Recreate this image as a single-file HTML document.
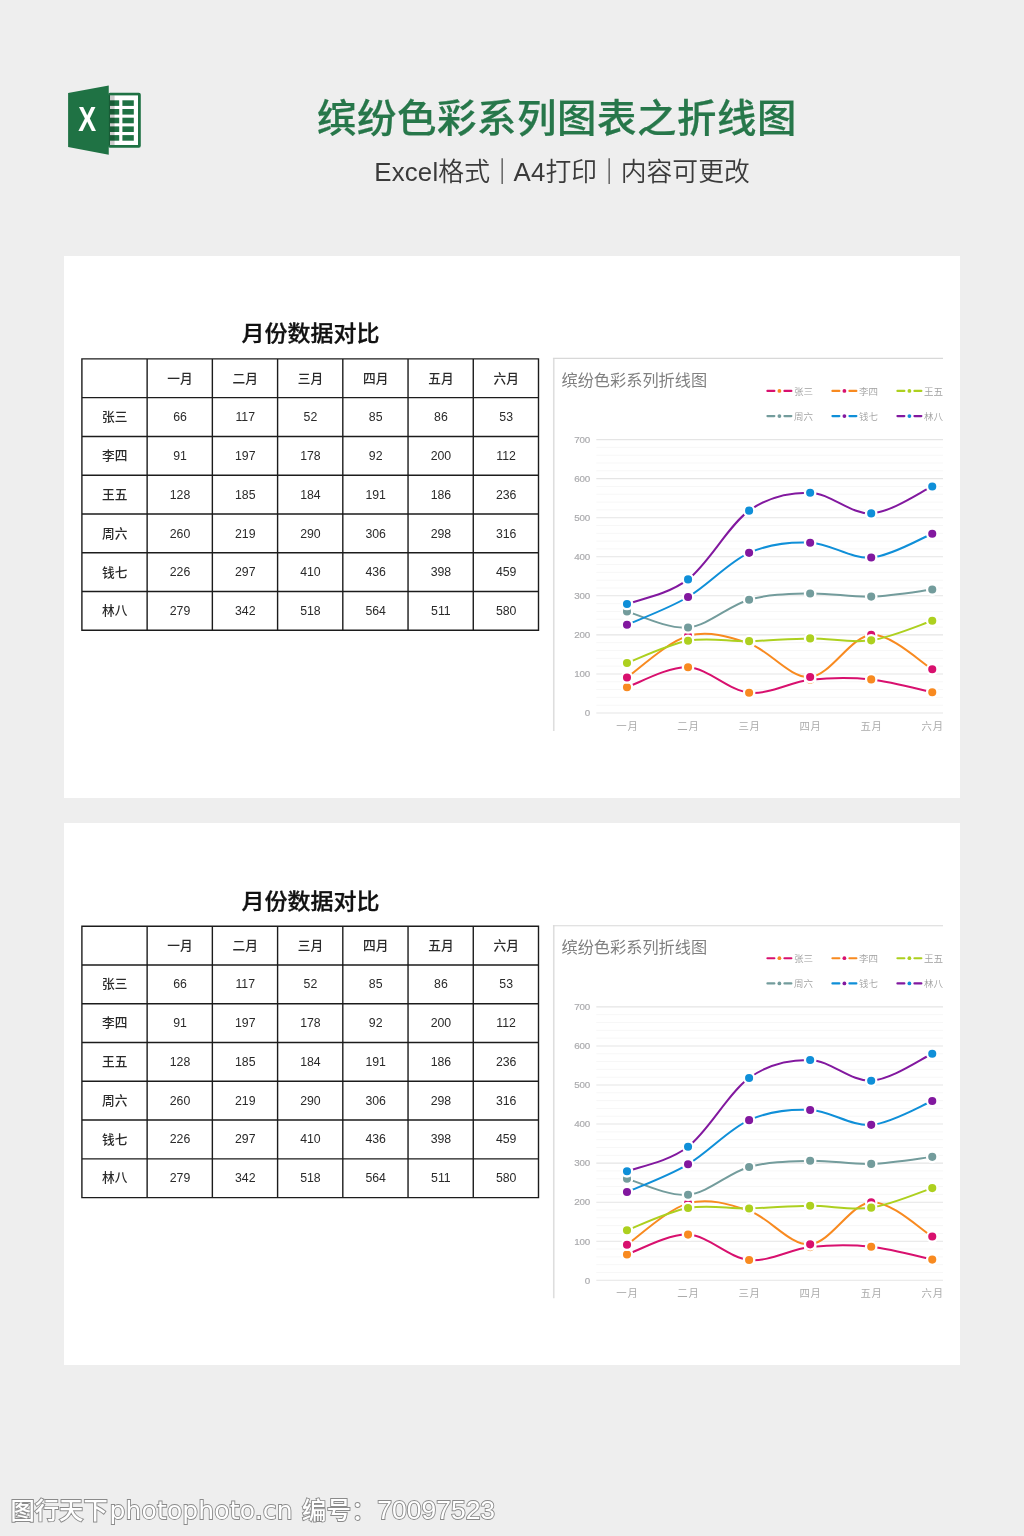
<!DOCTYPE html>
<html lang="zh-CN">
<head>
<meta charset="utf-8">
<title>缤纷色彩系列图表之折线图</title>
<style>
*{margin:0;padding:0;box-sizing:border-box}
html,body{width:1024px;height:1536px;overflow:hidden}
body{background:#eee;position:relative;font-family:"Liberation Sans","Noto Sans CJK SC",sans-serif}
.icon{position:absolute;left:60px;top:80px}
.h1{position:absolute;left:0;top:87.7px;width:1114px;text-align:center;font-size:39.4px;letter-spacing:.6px;line-height:60px;font-weight:500;color:#27774a;-webkit-text-stroke:.25px #27774a;white-space:nowrap;transform:scaleY(.97);transform-origin:center}
.la{letter-spacing:.2px}
.br{margin-left:-.8px;margin-right:-1.4px;font-weight:500}
.h2{position:absolute;left:0;top:152px;width:1124px;text-align:center;font-size:25.8px;line-height:40px;color:#3a3a3a;font-weight:350;white-space:nowrap}
.card{position:absolute;left:64px;width:896px;height:542px;background:#fff}
.in{position:absolute;left:0;top:0;width:896px;height:542px}
.tt{position:absolute;left:17.6px;top:63.1px;width:458px;text-align:center;font-size:23px;line-height:30px;font-weight:500;color:#111;-webkit-text-stroke:.35px #111;transform:scaleY(.92);transform-origin:center}
.tb{position:absolute;left:17.9px;top:102.9px;border-collapse:collapse;table-layout:fixed;width:456.6px;height:271.4px}
.tb th,.tb td{border:0;width:65.23px;height:38.77px;text-align:center;vertical-align:middle;font-size:12.3px;font-weight:400;color:#2a2a2a;padding:0}
.tb th{font-size:12.7px;font-weight:500;padding-bottom:2.2px}
.tb td,.tb th{padding-left:.6px}
.tb td{padding-top:.5px}
.chart{position:absolute;left:0;top:0}
.chart text{font-family:"Liberation Sans","Noto Sans CJK SC",sans-serif}
.ax{font-size:9.8px;fill:#ababae;letter-spacing:-.25px;stroke:#ababae;stroke-width:.2px}
.axx{font-size:10.4px;fill:#ababab;font-weight:400;letter-spacing:.7px}
.ct{font-size:16.2px;fill:#808080;font-weight:400}
.lg{font-size:9.5px;fill:#a0a0a0;font-weight:350}
.wm{position:absolute;left:10.5px;top:1490px;font-size:24.3px;line-height:40px;color:#fff;-webkit-text-stroke:1.8px #8a8a8a;paint-order:stroke fill;font-weight:500;white-space:nowrap;letter-spacing:0}
.wl{font-family:"DejaVu Sans","Liberation Sans",sans-serif;font-size:25px;font-weight:400;letter-spacing:.15px;margin-left:1.8px}
.wb{letter-spacing:.5px;margin-left:2.5px}
.wd{font-size:26.5px;font-weight:400;margin-left:.8px}
</style>
</head>
<body>
<svg class="icon" width="90" height="90" viewBox="0 0 90 90">
<rect x="48" y="12.8" width="32.8" height="54.9" rx="2" fill="#1f7244"/>
<rect x="50" y="15.4" width="28" height="49.6" fill="#fff"/>
<g fill="#1f7244">
<rect x="48.6" y="20.3" width="10.6" height="5.6"/><rect x="62.4" y="20.3" width="11.4" height="5.6"/>
<rect x="48.6" y="29" width="10.6" height="5.6"/><rect x="62.4" y="29" width="11.4" height="5.6"/>
<rect x="48.6" y="37.7" width="10.6" height="5.6"/><rect x="62.4" y="37.7" width="11.4" height="5.6"/>
<rect x="48.6" y="46.4" width="10.6" height="5.6"/><rect x="62.4" y="46.4" width="11.4" height="5.6"/>
<rect x="48.6" y="55.1" width="10.6" height="5.6"/><rect x="62.4" y="55.1" width="11.4" height="5.6"/>
</g>
<rect x="48.6" y="15.4" width="6" height="49.6" fill="#000" opacity=".2"/>
<path d="M8.1 13.1 L48.75 5.6 L48.75 74.7 L8.1 66.9 Z" fill="#1f7244"/>
<text x="0" y="0" text-anchor="middle" font-family="'Liberation Sans',sans-serif" font-weight="bold" font-size="34.5" fill="#fff" transform="translate(27.1 51.25) scale(0.78 1)">X</text>
</svg>
<div class="h1">缤纷色彩系列图表之折线图</div>
<div class="h2"><span class="la">Excel</span>格式<span class="br">｜</span><span class="la">A4</span>打印<span class="br">｜</span>内容可更改</div>
<div class="card" style="top:256px"><div class="in" style="transform:translateY(0.0px)">
<div class="tt">月份数据对比</div>
<table class="tb">
<tr><th></th><th>一月</th><th>二月</th><th>三月</th><th>四月</th><th>五月</th><th>六月</th></tr>
<tr><th>张三</th><td>66</td><td>117</td><td>52</td><td>85</td><td>86</td><td>53</td></tr>
<tr><th>李四</th><td>91</td><td>197</td><td>178</td><td>92</td><td>200</td><td>112</td></tr>
<tr><th>王五</th><td>128</td><td>185</td><td>184</td><td>191</td><td>186</td><td>236</td></tr>
<tr><th>周六</th><td>260</td><td>219</td><td>290</td><td>306</td><td>298</td><td>316</td></tr>
<tr><th>钱七</th><td>226</td><td>297</td><td>410</td><td>436</td><td>398</td><td>459</td></tr>
<tr><th>林八</th><td>279</td><td>342</td><td>518</td><td>564</td><td>511</td><td>580</td></tr>
</table>
<svg class="chart" width="896" height="542" viewBox="0 0 896 542">
<path d="M17.90 102.20V375.00M17.20 102.90H475.20M83.13 102.20V375.00M17.20 141.67H475.20M148.36 102.20V375.00M17.20 180.44H475.20M213.59 102.20V375.00M17.20 219.21H475.20M278.81 102.20V375.00M17.20 257.99H475.20M344.04 102.20V375.00M17.20 296.76H475.20M409.27 102.20V375.00M17.20 335.53H475.20M474.50 102.20V375.00M17.20 374.30H475.20" fill="none" stroke="#1c1c1c" stroke-width="1.4"/>
<path d="M489.75 475.00 V101.90" fill="none" stroke="#dedede" stroke-width="1.6"/><path d="M488.95 102.40 H879.00" fill="none" stroke="#d8d8d8" stroke-width="1.1"/>
<line x1="532.30" x2="879.00" y1="457.00" y2="457.00" stroke="#e5e5e5" stroke-width="1.1"/>
<line x1="532.30" x2="879.00" y1="449.19" y2="449.19" stroke="#f7f7f7" stroke-width="1"/>
<line x1="532.30" x2="879.00" y1="441.38" y2="441.38" stroke="#f7f7f7" stroke-width="1"/>
<line x1="532.30" x2="879.00" y1="433.56" y2="433.56" stroke="#f7f7f7" stroke-width="1"/>
<line x1="532.30" x2="879.00" y1="425.75" y2="425.75" stroke="#f7f7f7" stroke-width="1"/>
<line x1="532.30" x2="879.00" y1="417.94" y2="417.94" stroke="#e5e5e5" stroke-width="1.1"/>
<line x1="532.30" x2="879.00" y1="410.13" y2="410.13" stroke="#f7f7f7" stroke-width="1"/>
<line x1="532.30" x2="879.00" y1="402.32" y2="402.32" stroke="#f7f7f7" stroke-width="1"/>
<line x1="532.30" x2="879.00" y1="394.50" y2="394.50" stroke="#f7f7f7" stroke-width="1"/>
<line x1="532.30" x2="879.00" y1="386.69" y2="386.69" stroke="#f7f7f7" stroke-width="1"/>
<line x1="532.30" x2="879.00" y1="378.88" y2="378.88" stroke="#e5e5e5" stroke-width="1.1"/>
<line x1="532.30" x2="879.00" y1="371.07" y2="371.07" stroke="#f7f7f7" stroke-width="1"/>
<line x1="532.30" x2="879.00" y1="363.26" y2="363.26" stroke="#f7f7f7" stroke-width="1"/>
<line x1="532.30" x2="879.00" y1="355.44" y2="355.44" stroke="#f7f7f7" stroke-width="1"/>
<line x1="532.30" x2="879.00" y1="347.63" y2="347.63" stroke="#f7f7f7" stroke-width="1"/>
<line x1="532.30" x2="879.00" y1="339.82" y2="339.82" stroke="#e5e5e5" stroke-width="1.1"/>
<line x1="532.30" x2="879.00" y1="332.01" y2="332.01" stroke="#f7f7f7" stroke-width="1"/>
<line x1="532.30" x2="879.00" y1="324.20" y2="324.20" stroke="#f7f7f7" stroke-width="1"/>
<line x1="532.30" x2="879.00" y1="316.38" y2="316.38" stroke="#f7f7f7" stroke-width="1"/>
<line x1="532.30" x2="879.00" y1="308.57" y2="308.57" stroke="#f7f7f7" stroke-width="1"/>
<line x1="532.30" x2="879.00" y1="300.76" y2="300.76" stroke="#e5e5e5" stroke-width="1.1"/>
<line x1="532.30" x2="879.00" y1="292.95" y2="292.95" stroke="#f7f7f7" stroke-width="1"/>
<line x1="532.30" x2="879.00" y1="285.14" y2="285.14" stroke="#f7f7f7" stroke-width="1"/>
<line x1="532.30" x2="879.00" y1="277.32" y2="277.32" stroke="#f7f7f7" stroke-width="1"/>
<line x1="532.30" x2="879.00" y1="269.51" y2="269.51" stroke="#f7f7f7" stroke-width="1"/>
<line x1="532.30" x2="879.00" y1="261.70" y2="261.70" stroke="#e5e5e5" stroke-width="1.1"/>
<line x1="532.30" x2="879.00" y1="253.89" y2="253.89" stroke="#f7f7f7" stroke-width="1"/>
<line x1="532.30" x2="879.00" y1="246.08" y2="246.08" stroke="#f7f7f7" stroke-width="1"/>
<line x1="532.30" x2="879.00" y1="238.26" y2="238.26" stroke="#f7f7f7" stroke-width="1"/>
<line x1="532.30" x2="879.00" y1="230.45" y2="230.45" stroke="#f7f7f7" stroke-width="1"/>
<line x1="532.30" x2="879.00" y1="222.64" y2="222.64" stroke="#e5e5e5" stroke-width="1.1"/>
<line x1="532.30" x2="879.00" y1="214.83" y2="214.83" stroke="#f7f7f7" stroke-width="1"/>
<line x1="532.30" x2="879.00" y1="207.02" y2="207.02" stroke="#f7f7f7" stroke-width="1"/>
<line x1="532.30" x2="879.00" y1="199.20" y2="199.20" stroke="#f7f7f7" stroke-width="1"/>
<line x1="532.30" x2="879.00" y1="191.39" y2="191.39" stroke="#f7f7f7" stroke-width="1"/>
<line x1="532.30" x2="879.00" y1="183.58" y2="183.58" stroke="#e5e5e5" stroke-width="1.1"/>
<text x="525.90" y="460.30" class="ax" text-anchor="end">0</text>
<text x="525.90" y="421.24" class="ax" text-anchor="end">100</text>
<text x="525.90" y="382.18" class="ax" text-anchor="end">200</text>
<text x="525.90" y="343.12" class="ax" text-anchor="end">300</text>
<text x="525.90" y="304.06" class="ax" text-anchor="end">400</text>
<text x="525.90" y="265.00" class="ax" text-anchor="end">500</text>
<text x="525.90" y="225.94" class="ax" text-anchor="end">600</text>
<text x="525.90" y="186.88" class="ax" text-anchor="end">700</text>
<text x="563.40" y="474.20" class="axx" text-anchor="middle">一月</text>
<text x="624.45" y="474.20" class="axx" text-anchor="middle">二月</text>
<text x="685.50" y="474.20" class="axx" text-anchor="middle">三月</text>
<text x="746.55" y="474.20" class="axx" text-anchor="middle">四月</text>
<text x="807.60" y="474.20" class="axx" text-anchor="middle">五月</text>
<text x="868.65" y="474.20" class="axx" text-anchor="middle">六月</text>
<text x="497.50" y="129.50" class="ct">缤纷色彩系列折线图</text>
<path d="M703.40 134.90 h7 M720.40 134.90 h7" stroke="#d8106e" stroke-width="2.1" stroke-linecap="round" fill="none"/>
<circle cx="715.40" cy="134.90" r="1.9" fill="#f88a20"/>
<text x="729.90" y="138.50" class="lg">张三</text>
<path d="M768.40 134.90 h7 M785.40 134.90 h7" stroke="#f88a20" stroke-width="2.1" stroke-linecap="round" fill="none"/>
<circle cx="780.40" cy="134.90" r="1.9" fill="#d8106e"/>
<text x="794.90" y="138.50" class="lg">李四</text>
<path d="M833.40 134.90 h7 M850.40 134.90 h7" stroke="#add01f" stroke-width="2.1" stroke-linecap="round" fill="none"/>
<circle cx="845.40" cy="134.90" r="1.9" fill="#add01f"/>
<text x="859.90" y="138.50" class="lg">王五</text>
<path d="M703.40 160.10 h7 M720.40 160.10 h7" stroke="#739c9c" stroke-width="2.1" stroke-linecap="round" fill="none"/>
<circle cx="715.40" cy="160.10" r="1.9" fill="#739c9c"/>
<text x="729.90" y="163.70" class="lg">周六</text>
<path d="M768.40 160.10 h7 M785.40 160.10 h7" stroke="#0f8fd8" stroke-width="2.1" stroke-linecap="round" fill="none"/>
<circle cx="780.40" cy="160.10" r="1.9" fill="#82189f"/>
<text x="794.90" y="163.70" class="lg">钱七</text>
<path d="M833.40 160.10 h7 M850.40 160.10 h7" stroke="#82189f" stroke-width="2.1" stroke-linecap="round" fill="none"/>
<circle cx="845.40" cy="160.10" r="1.9" fill="#0f8fd8"/>
<text x="859.90" y="163.70" class="lg">林八</text>
<path d="M563.00 431.22 C573.17 427.90 603.70 410.39 624.05 411.30 C644.40 412.21 664.75 434.61 685.10 436.69 C705.45 438.77 725.80 426.01 746.15 423.80 C766.50 421.59 786.85 421.33 807.20 423.41 C827.55 425.49 858.08 434.15 868.25 436.30" fill="none" stroke="#d8106e" stroke-width="2" stroke-linecap="round"/>
<circle cx="563.00" cy="431.22" r="5.2" fill="#f88a20" stroke="#fff" stroke-width="2.3"/>
<circle cx="624.05" cy="411.30" r="5.2" fill="#f88a20" stroke="#fff" stroke-width="2.3"/>
<circle cx="685.10" cy="436.69" r="5.2" fill="#f88a20" stroke="#fff" stroke-width="2.3"/>
<circle cx="746.15" cy="423.80" r="5.2" fill="#f88a20" stroke="#fff" stroke-width="2.3"/>
<circle cx="807.20" cy="423.41" r="5.2" fill="#f88a20" stroke="#fff" stroke-width="2.3"/>
<circle cx="868.25" cy="436.30" r="5.2" fill="#f88a20" stroke="#fff" stroke-width="2.3"/>
<path d="M563.00 421.46 C573.17 414.55 603.70 385.72 624.05 380.05 C644.40 374.39 664.75 380.64 685.10 387.47 C705.45 394.31 725.80 422.50 746.15 421.06 C766.50 419.63 786.85 380.18 807.20 378.88 C827.55 377.58 858.08 407.52 868.25 413.25" fill="none" stroke="#f88a20" stroke-width="2" stroke-linecap="round"/>
<circle cx="563.00" cy="421.46" r="5.2" fill="#d8106e" stroke="#fff" stroke-width="2.3"/>
<circle cx="624.05" cy="380.05" r="5.2" fill="#d8106e" stroke="#fff" stroke-width="2.3"/>
<circle cx="685.10" cy="387.47" r="4.7" fill="#d8106e" stroke="#fff" stroke-width="2.3"/>
<circle cx="746.15" cy="421.06" r="5.2" fill="#d8106e" stroke="#fff" stroke-width="2.3"/>
<circle cx="807.20" cy="378.88" r="5.2" fill="#d8106e" stroke="#fff" stroke-width="2.3"/>
<circle cx="868.25" cy="413.25" r="5.2" fill="#d8106e" stroke="#fff" stroke-width="2.3"/>
<path d="M563.00 407.00 C573.17 403.29 603.70 388.38 624.05 384.74 C644.40 381.09 664.75 385.52 685.10 385.13 C705.45 384.74 725.80 382.53 746.15 382.40 C766.50 382.27 786.85 387.28 807.20 384.35 C827.55 381.42 858.08 368.07 868.25 364.82" fill="none" stroke="#add01f" stroke-width="2" stroke-linecap="round"/>
<circle cx="563.00" cy="407.00" r="5.2" fill="#add01f" stroke="#fff" stroke-width="2.3"/>
<circle cx="624.05" cy="384.74" r="5.2" fill="#add01f" stroke="#fff" stroke-width="2.3"/>
<circle cx="685.10" cy="385.13" r="5.2" fill="#add01f" stroke="#fff" stroke-width="2.3"/>
<circle cx="746.15" cy="382.40" r="5.2" fill="#add01f" stroke="#fff" stroke-width="2.3"/>
<circle cx="807.20" cy="384.35" r="5.2" fill="#add01f" stroke="#fff" stroke-width="2.3"/>
<circle cx="868.25" cy="364.82" r="5.2" fill="#add01f" stroke="#fff" stroke-width="2.3"/>
<path d="M563.00 355.44 C573.17 358.11 603.70 373.41 624.05 371.46 C644.40 369.51 664.75 349.39 685.10 343.73 C705.45 338.06 725.80 338.00 746.15 337.48 C766.50 336.96 786.85 341.25 807.20 340.60 C827.55 339.95 858.08 334.74 868.25 333.57" fill="none" stroke="#739c9c" stroke-width="2" stroke-linecap="round"/>
<circle cx="563.00" cy="355.44" r="5.2" fill="#739c9c" stroke="#fff" stroke-width="2.3"/>
<circle cx="624.05" cy="371.46" r="5.2" fill="#739c9c" stroke="#fff" stroke-width="2.3"/>
<circle cx="685.10" cy="343.73" r="5.2" fill="#739c9c" stroke="#fff" stroke-width="2.3"/>
<circle cx="746.15" cy="337.48" r="5.2" fill="#739c9c" stroke="#fff" stroke-width="2.3"/>
<circle cx="807.20" cy="340.60" r="5.2" fill="#739c9c" stroke="#fff" stroke-width="2.3"/>
<circle cx="868.25" cy="333.57" r="5.2" fill="#739c9c" stroke="#fff" stroke-width="2.3"/>
<path d="M563.00 368.72 C573.17 364.10 603.70 352.97 624.05 340.99 C644.40 329.01 664.75 305.90 685.10 296.85 C705.45 287.81 725.80 285.92 746.15 286.70 C766.50 287.48 786.85 303.04 807.20 301.54 C827.55 300.04 858.08 281.69 868.25 277.71" fill="none" stroke="#0f8fd8" stroke-width="2" stroke-linecap="round"/>
<circle cx="563.00" cy="368.72" r="5.2" fill="#82189f" stroke="#fff" stroke-width="2.3"/>
<circle cx="624.05" cy="340.99" r="5.2" fill="#82189f" stroke="#fff" stroke-width="2.3"/>
<circle cx="685.10" cy="296.85" r="5.2" fill="#82189f" stroke="#fff" stroke-width="2.3"/>
<circle cx="746.15" cy="286.70" r="5.2" fill="#82189f" stroke="#fff" stroke-width="2.3"/>
<circle cx="807.20" cy="301.54" r="5.2" fill="#82189f" stroke="#fff" stroke-width="2.3"/>
<circle cx="868.25" cy="277.71" r="5.2" fill="#82189f" stroke="#fff" stroke-width="2.3"/>
<path d="M563.00 348.02 C573.17 343.92 603.70 338.97 624.05 323.41 C644.40 307.86 664.75 269.12 685.10 254.67 C705.45 240.22 725.80 236.25 746.15 236.70 C766.50 237.16 786.85 258.45 807.20 257.40 C827.55 256.36 858.08 234.94 868.25 230.45" fill="none" stroke="#82189f" stroke-width="2" stroke-linecap="round"/>
<circle cx="563.00" cy="348.02" r="5.2" fill="#0f8fd8" stroke="#fff" stroke-width="2.3"/>
<circle cx="624.05" cy="323.41" r="5.2" fill="#0f8fd8" stroke="#fff" stroke-width="2.3"/>
<circle cx="685.10" cy="254.67" r="5.2" fill="#0f8fd8" stroke="#fff" stroke-width="2.3"/>
<circle cx="746.15" cy="236.70" r="5.2" fill="#0f8fd8" stroke="#fff" stroke-width="2.3"/>
<circle cx="807.20" cy="257.40" r="5.2" fill="#0f8fd8" stroke="#fff" stroke-width="2.3"/>
<circle cx="868.25" cy="230.45" r="5.2" fill="#0f8fd8" stroke="#fff" stroke-width="2.3"/>
</svg>
</div></div>
<div class="card" style="top:823px"><div class="in" style="transform:translateY(0.3px)">
<div class="tt">月份数据对比</div>
<table class="tb">
<tr><th></th><th>一月</th><th>二月</th><th>三月</th><th>四月</th><th>五月</th><th>六月</th></tr>
<tr><th>张三</th><td>66</td><td>117</td><td>52</td><td>85</td><td>86</td><td>53</td></tr>
<tr><th>李四</th><td>91</td><td>197</td><td>178</td><td>92</td><td>200</td><td>112</td></tr>
<tr><th>王五</th><td>128</td><td>185</td><td>184</td><td>191</td><td>186</td><td>236</td></tr>
<tr><th>周六</th><td>260</td><td>219</td><td>290</td><td>306</td><td>298</td><td>316</td></tr>
<tr><th>钱七</th><td>226</td><td>297</td><td>410</td><td>436</td><td>398</td><td>459</td></tr>
<tr><th>林八</th><td>279</td><td>342</td><td>518</td><td>564</td><td>511</td><td>580</td></tr>
</table>
<svg class="chart" width="896" height="542" viewBox="0 0 896 542">
<path d="M17.90 102.20V375.00M17.20 102.90H475.20M83.13 102.20V375.00M17.20 141.67H475.20M148.36 102.20V375.00M17.20 180.44H475.20M213.59 102.20V375.00M17.20 219.21H475.20M278.81 102.20V375.00M17.20 257.99H475.20M344.04 102.20V375.00M17.20 296.76H475.20M409.27 102.20V375.00M17.20 335.53H475.20M474.50 102.20V375.00M17.20 374.30H475.20" fill="none" stroke="#1c1c1c" stroke-width="1.4"/>
<path d="M489.75 475.00 V101.90" fill="none" stroke="#dedede" stroke-width="1.6"/><path d="M488.95 102.40 H879.00" fill="none" stroke="#d8d8d8" stroke-width="1.1"/>
<line x1="532.30" x2="879.00" y1="457.00" y2="457.00" stroke="#e5e5e5" stroke-width="1.1"/>
<line x1="532.30" x2="879.00" y1="449.19" y2="449.19" stroke="#f7f7f7" stroke-width="1"/>
<line x1="532.30" x2="879.00" y1="441.38" y2="441.38" stroke="#f7f7f7" stroke-width="1"/>
<line x1="532.30" x2="879.00" y1="433.56" y2="433.56" stroke="#f7f7f7" stroke-width="1"/>
<line x1="532.30" x2="879.00" y1="425.75" y2="425.75" stroke="#f7f7f7" stroke-width="1"/>
<line x1="532.30" x2="879.00" y1="417.94" y2="417.94" stroke="#e5e5e5" stroke-width="1.1"/>
<line x1="532.30" x2="879.00" y1="410.13" y2="410.13" stroke="#f7f7f7" stroke-width="1"/>
<line x1="532.30" x2="879.00" y1="402.32" y2="402.32" stroke="#f7f7f7" stroke-width="1"/>
<line x1="532.30" x2="879.00" y1="394.50" y2="394.50" stroke="#f7f7f7" stroke-width="1"/>
<line x1="532.30" x2="879.00" y1="386.69" y2="386.69" stroke="#f7f7f7" stroke-width="1"/>
<line x1="532.30" x2="879.00" y1="378.88" y2="378.88" stroke="#e5e5e5" stroke-width="1.1"/>
<line x1="532.30" x2="879.00" y1="371.07" y2="371.07" stroke="#f7f7f7" stroke-width="1"/>
<line x1="532.30" x2="879.00" y1="363.26" y2="363.26" stroke="#f7f7f7" stroke-width="1"/>
<line x1="532.30" x2="879.00" y1="355.44" y2="355.44" stroke="#f7f7f7" stroke-width="1"/>
<line x1="532.30" x2="879.00" y1="347.63" y2="347.63" stroke="#f7f7f7" stroke-width="1"/>
<line x1="532.30" x2="879.00" y1="339.82" y2="339.82" stroke="#e5e5e5" stroke-width="1.1"/>
<line x1="532.30" x2="879.00" y1="332.01" y2="332.01" stroke="#f7f7f7" stroke-width="1"/>
<line x1="532.30" x2="879.00" y1="324.20" y2="324.20" stroke="#f7f7f7" stroke-width="1"/>
<line x1="532.30" x2="879.00" y1="316.38" y2="316.38" stroke="#f7f7f7" stroke-width="1"/>
<line x1="532.30" x2="879.00" y1="308.57" y2="308.57" stroke="#f7f7f7" stroke-width="1"/>
<line x1="532.30" x2="879.00" y1="300.76" y2="300.76" stroke="#e5e5e5" stroke-width="1.1"/>
<line x1="532.30" x2="879.00" y1="292.95" y2="292.95" stroke="#f7f7f7" stroke-width="1"/>
<line x1="532.30" x2="879.00" y1="285.14" y2="285.14" stroke="#f7f7f7" stroke-width="1"/>
<line x1="532.30" x2="879.00" y1="277.32" y2="277.32" stroke="#f7f7f7" stroke-width="1"/>
<line x1="532.30" x2="879.00" y1="269.51" y2="269.51" stroke="#f7f7f7" stroke-width="1"/>
<line x1="532.30" x2="879.00" y1="261.70" y2="261.70" stroke="#e5e5e5" stroke-width="1.1"/>
<line x1="532.30" x2="879.00" y1="253.89" y2="253.89" stroke="#f7f7f7" stroke-width="1"/>
<line x1="532.30" x2="879.00" y1="246.08" y2="246.08" stroke="#f7f7f7" stroke-width="1"/>
<line x1="532.30" x2="879.00" y1="238.26" y2="238.26" stroke="#f7f7f7" stroke-width="1"/>
<line x1="532.30" x2="879.00" y1="230.45" y2="230.45" stroke="#f7f7f7" stroke-width="1"/>
<line x1="532.30" x2="879.00" y1="222.64" y2="222.64" stroke="#e5e5e5" stroke-width="1.1"/>
<line x1="532.30" x2="879.00" y1="214.83" y2="214.83" stroke="#f7f7f7" stroke-width="1"/>
<line x1="532.30" x2="879.00" y1="207.02" y2="207.02" stroke="#f7f7f7" stroke-width="1"/>
<line x1="532.30" x2="879.00" y1="199.20" y2="199.20" stroke="#f7f7f7" stroke-width="1"/>
<line x1="532.30" x2="879.00" y1="191.39" y2="191.39" stroke="#f7f7f7" stroke-width="1"/>
<line x1="532.30" x2="879.00" y1="183.58" y2="183.58" stroke="#e5e5e5" stroke-width="1.1"/>
<text x="525.90" y="460.30" class="ax" text-anchor="end">0</text>
<text x="525.90" y="421.24" class="ax" text-anchor="end">100</text>
<text x="525.90" y="382.18" class="ax" text-anchor="end">200</text>
<text x="525.90" y="343.12" class="ax" text-anchor="end">300</text>
<text x="525.90" y="304.06" class="ax" text-anchor="end">400</text>
<text x="525.90" y="265.00" class="ax" text-anchor="end">500</text>
<text x="525.90" y="225.94" class="ax" text-anchor="end">600</text>
<text x="525.90" y="186.88" class="ax" text-anchor="end">700</text>
<text x="563.40" y="474.20" class="axx" text-anchor="middle">一月</text>
<text x="624.45" y="474.20" class="axx" text-anchor="middle">二月</text>
<text x="685.50" y="474.20" class="axx" text-anchor="middle">三月</text>
<text x="746.55" y="474.20" class="axx" text-anchor="middle">四月</text>
<text x="807.60" y="474.20" class="axx" text-anchor="middle">五月</text>
<text x="868.65" y="474.20" class="axx" text-anchor="middle">六月</text>
<text x="497.50" y="129.50" class="ct">缤纷色彩系列折线图</text>
<path d="M703.40 134.90 h7 M720.40 134.90 h7" stroke="#d8106e" stroke-width="2.1" stroke-linecap="round" fill="none"/>
<circle cx="715.40" cy="134.90" r="1.9" fill="#f88a20"/>
<text x="729.90" y="138.50" class="lg">张三</text>
<path d="M768.40 134.90 h7 M785.40 134.90 h7" stroke="#f88a20" stroke-width="2.1" stroke-linecap="round" fill="none"/>
<circle cx="780.40" cy="134.90" r="1.9" fill="#d8106e"/>
<text x="794.90" y="138.50" class="lg">李四</text>
<path d="M833.40 134.90 h7 M850.40 134.90 h7" stroke="#add01f" stroke-width="2.1" stroke-linecap="round" fill="none"/>
<circle cx="845.40" cy="134.90" r="1.9" fill="#add01f"/>
<text x="859.90" y="138.50" class="lg">王五</text>
<path d="M703.40 160.10 h7 M720.40 160.10 h7" stroke="#739c9c" stroke-width="2.1" stroke-linecap="round" fill="none"/>
<circle cx="715.40" cy="160.10" r="1.9" fill="#739c9c"/>
<text x="729.90" y="163.70" class="lg">周六</text>
<path d="M768.40 160.10 h7 M785.40 160.10 h7" stroke="#0f8fd8" stroke-width="2.1" stroke-linecap="round" fill="none"/>
<circle cx="780.40" cy="160.10" r="1.9" fill="#82189f"/>
<text x="794.90" y="163.70" class="lg">钱七</text>
<path d="M833.40 160.10 h7 M850.40 160.10 h7" stroke="#82189f" stroke-width="2.1" stroke-linecap="round" fill="none"/>
<circle cx="845.40" cy="160.10" r="1.9" fill="#0f8fd8"/>
<text x="859.90" y="163.70" class="lg">林八</text>
<path d="M563.00 431.22 C573.17 427.90 603.70 410.39 624.05 411.30 C644.40 412.21 664.75 434.61 685.10 436.69 C705.45 438.77 725.80 426.01 746.15 423.80 C766.50 421.59 786.85 421.33 807.20 423.41 C827.55 425.49 858.08 434.15 868.25 436.30" fill="none" stroke="#d8106e" stroke-width="2" stroke-linecap="round"/>
<circle cx="563.00" cy="431.22" r="5.2" fill="#f88a20" stroke="#fff" stroke-width="2.3"/>
<circle cx="624.05" cy="411.30" r="5.2" fill="#f88a20" stroke="#fff" stroke-width="2.3"/>
<circle cx="685.10" cy="436.69" r="5.2" fill="#f88a20" stroke="#fff" stroke-width="2.3"/>
<circle cx="746.15" cy="423.80" r="5.2" fill="#f88a20" stroke="#fff" stroke-width="2.3"/>
<circle cx="807.20" cy="423.41" r="5.2" fill="#f88a20" stroke="#fff" stroke-width="2.3"/>
<circle cx="868.25" cy="436.30" r="5.2" fill="#f88a20" stroke="#fff" stroke-width="2.3"/>
<path d="M563.00 421.46 C573.17 414.55 603.70 385.72 624.05 380.05 C644.40 374.39 664.75 380.64 685.10 387.47 C705.45 394.31 725.80 422.50 746.15 421.06 C766.50 419.63 786.85 380.18 807.20 378.88 C827.55 377.58 858.08 407.52 868.25 413.25" fill="none" stroke="#f88a20" stroke-width="2" stroke-linecap="round"/>
<circle cx="563.00" cy="421.46" r="5.2" fill="#d8106e" stroke="#fff" stroke-width="2.3"/>
<circle cx="624.05" cy="380.05" r="5.2" fill="#d8106e" stroke="#fff" stroke-width="2.3"/>
<circle cx="685.10" cy="387.47" r="4.7" fill="#d8106e" stroke="#fff" stroke-width="2.3"/>
<circle cx="746.15" cy="421.06" r="5.2" fill="#d8106e" stroke="#fff" stroke-width="2.3"/>
<circle cx="807.20" cy="378.88" r="5.2" fill="#d8106e" stroke="#fff" stroke-width="2.3"/>
<circle cx="868.25" cy="413.25" r="5.2" fill="#d8106e" stroke="#fff" stroke-width="2.3"/>
<path d="M563.00 407.00 C573.17 403.29 603.70 388.38 624.05 384.74 C644.40 381.09 664.75 385.52 685.10 385.13 C705.45 384.74 725.80 382.53 746.15 382.40 C766.50 382.27 786.85 387.28 807.20 384.35 C827.55 381.42 858.08 368.07 868.25 364.82" fill="none" stroke="#add01f" stroke-width="2" stroke-linecap="round"/>
<circle cx="563.00" cy="407.00" r="5.2" fill="#add01f" stroke="#fff" stroke-width="2.3"/>
<circle cx="624.05" cy="384.74" r="5.2" fill="#add01f" stroke="#fff" stroke-width="2.3"/>
<circle cx="685.10" cy="385.13" r="5.2" fill="#add01f" stroke="#fff" stroke-width="2.3"/>
<circle cx="746.15" cy="382.40" r="5.2" fill="#add01f" stroke="#fff" stroke-width="2.3"/>
<circle cx="807.20" cy="384.35" r="5.2" fill="#add01f" stroke="#fff" stroke-width="2.3"/>
<circle cx="868.25" cy="364.82" r="5.2" fill="#add01f" stroke="#fff" stroke-width="2.3"/>
<path d="M563.00 355.44 C573.17 358.11 603.70 373.41 624.05 371.46 C644.40 369.51 664.75 349.39 685.10 343.73 C705.45 338.06 725.80 338.00 746.15 337.48 C766.50 336.96 786.85 341.25 807.20 340.60 C827.55 339.95 858.08 334.74 868.25 333.57" fill="none" stroke="#739c9c" stroke-width="2" stroke-linecap="round"/>
<circle cx="563.00" cy="355.44" r="5.2" fill="#739c9c" stroke="#fff" stroke-width="2.3"/>
<circle cx="624.05" cy="371.46" r="5.2" fill="#739c9c" stroke="#fff" stroke-width="2.3"/>
<circle cx="685.10" cy="343.73" r="5.2" fill="#739c9c" stroke="#fff" stroke-width="2.3"/>
<circle cx="746.15" cy="337.48" r="5.2" fill="#739c9c" stroke="#fff" stroke-width="2.3"/>
<circle cx="807.20" cy="340.60" r="5.2" fill="#739c9c" stroke="#fff" stroke-width="2.3"/>
<circle cx="868.25" cy="333.57" r="5.2" fill="#739c9c" stroke="#fff" stroke-width="2.3"/>
<path d="M563.00 368.72 C573.17 364.10 603.70 352.97 624.05 340.99 C644.40 329.01 664.75 305.90 685.10 296.85 C705.45 287.81 725.80 285.92 746.15 286.70 C766.50 287.48 786.85 303.04 807.20 301.54 C827.55 300.04 858.08 281.69 868.25 277.71" fill="none" stroke="#0f8fd8" stroke-width="2" stroke-linecap="round"/>
<circle cx="563.00" cy="368.72" r="5.2" fill="#82189f" stroke="#fff" stroke-width="2.3"/>
<circle cx="624.05" cy="340.99" r="5.2" fill="#82189f" stroke="#fff" stroke-width="2.3"/>
<circle cx="685.10" cy="296.85" r="5.2" fill="#82189f" stroke="#fff" stroke-width="2.3"/>
<circle cx="746.15" cy="286.70" r="5.2" fill="#82189f" stroke="#fff" stroke-width="2.3"/>
<circle cx="807.20" cy="301.54" r="5.2" fill="#82189f" stroke="#fff" stroke-width="2.3"/>
<circle cx="868.25" cy="277.71" r="5.2" fill="#82189f" stroke="#fff" stroke-width="2.3"/>
<path d="M563.00 348.02 C573.17 343.92 603.70 338.97 624.05 323.41 C644.40 307.86 664.75 269.12 685.10 254.67 C705.45 240.22 725.80 236.25 746.15 236.70 C766.50 237.16 786.85 258.45 807.20 257.40 C827.55 256.36 858.08 234.94 868.25 230.45" fill="none" stroke="#82189f" stroke-width="2" stroke-linecap="round"/>
<circle cx="563.00" cy="348.02" r="5.2" fill="#0f8fd8" stroke="#fff" stroke-width="2.3"/>
<circle cx="624.05" cy="323.41" r="5.2" fill="#0f8fd8" stroke="#fff" stroke-width="2.3"/>
<circle cx="685.10" cy="254.67" r="5.2" fill="#0f8fd8" stroke="#fff" stroke-width="2.3"/>
<circle cx="746.15" cy="236.70" r="5.2" fill="#0f8fd8" stroke="#fff" stroke-width="2.3"/>
<circle cx="807.20" cy="257.40" r="5.2" fill="#0f8fd8" stroke="#fff" stroke-width="2.3"/>
<circle cx="868.25" cy="230.45" r="5.2" fill="#0f8fd8" stroke="#fff" stroke-width="2.3"/>
</svg>
</div></div>
<div class="wm">图行天下<span class="wl">photophoto.cn</span> <span class="wb">编号：</span><span class="wd">70097523</span></div>
</body>
</html>
